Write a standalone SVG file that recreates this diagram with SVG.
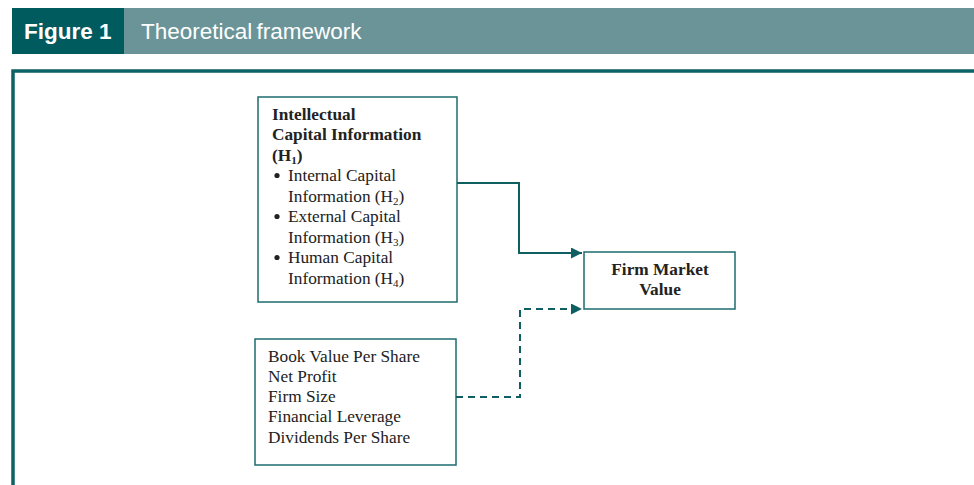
<svg xmlns="http://www.w3.org/2000/svg" width="974" height="485" viewBox="0 0 974 485">
<defs>
<style>
.box{fill:#fff;stroke:#1d6b6e;stroke-width:1.5}
.t{font-family:"Liberation Serif","Times New Roman",serif;font-size:17.3px;fill:#222}
.b{font-weight:bold}
.sub{font-size:11px}
.bul{fill:#222}
.ln{fill:none;stroke:#0e5f62;stroke-width:2}
.hd{font-family:"Liberation Sans",Arial,sans-serif;font-size:22.5px;fill:#fff}
</style>
<marker id="ah" viewBox="0 0 10 10" refX="10" refY="5" markerWidth="11" markerHeight="11" markerUnits="userSpaceOnUse" orient="auto">
<path d="M0,0 L10,5 L0,10 z" fill="#0e5f62"/>
</marker>
</defs>
<rect width="974" height="485" fill="#fff"/>
<g id="header">
<rect x="12" y="8" width="962" height="46" fill="#6b9498"/>
<rect x="12" y="8" width="112" height="46" fill="#005b5f"/>
<text class="hd b" x="24" y="39">Figure 1</text>
<text class="hd" x="141" y="39" font-size="24" word-spacing="-2">Theoretical framework</text>
</g>
<path d="M13,485 V71 H974" fill="none" stroke="#0c6266" stroke-width="3.5"/>
<g id="ic">
<rect class="box" x="258" y="97" width="199" height="205"/>
<text class="t b" x="272" y="120">Intellectual</text>
<text class="t b" x="272" y="140">Capital Information</text>
<text class="t b" x="272" y="161">(H<tspan class="sub" dy="3">1</tspan><tspan dy="-3">)</tspan></text>
<circle class="bul" cx="277" cy="175.5" r="2.6"/>
<text class="t" x="288" y="181">Internal Capital</text>
<text class="t" x="288" y="202">Information (H<tspan class="sub" dy="3">2</tspan><tspan dy="-3">)</tspan></text>
<circle class="bul" cx="277" cy="216.5" r="2.6"/>
<text class="t" x="288" y="222">External Capital</text>
<text class="t" x="288" y="243">Information (H<tspan class="sub" dy="3">3</tspan><tspan dy="-3">)</tspan></text>
<circle class="bul" cx="277" cy="257.5" r="2.6"/>
<text class="t" x="288" y="263">Human Capital</text>
<text class="t" x="288" y="284">Information (H<tspan class="sub" dy="3">4</tspan><tspan dy="-3">)</tspan></text>
</g>
<g id="fmv">
<rect class="box" x="584" y="252" width="151" height="57"/>
<text class="t b" x="660" y="275" text-anchor="middle">Firm Market</text>
<text class="t b" x="660" y="295" text-anchor="middle">Value</text>
</g>
<g id="controls">
<rect class="box" x="255" y="339" width="201" height="126"/>
<text class="t" x="268" y="362">Book Value Per Share</text>
<text class="t" x="268" y="382">Net Profit</text>
<text class="t" x="268" y="402">Firm Size</text>
<text class="t" x="268" y="422">Financial Leverage</text>
<text class="t" x="268" y="443">Dividends Per Share</text>
</g>
<g id="connectors">
<path class="ln" d="M457,183 H519 V253 H582" marker-end="url(#ah)"/>
<path class="ln" d="M456,397 H520 V309 H582" stroke-dasharray="7,5" marker-end="url(#ah)"/>
</g>
</svg>
